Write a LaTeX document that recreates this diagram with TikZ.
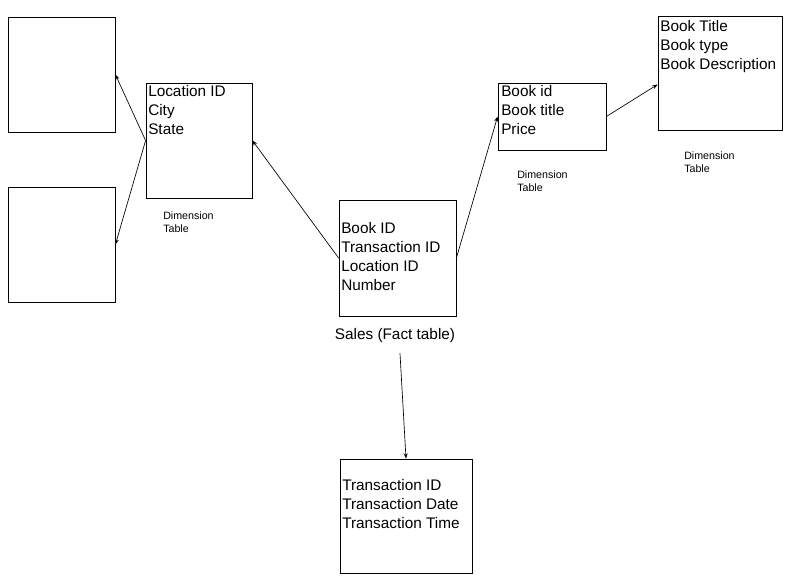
\documentclass[tikz,border=0pt]{standalone}
\usepackage{fontspec}
\setmainfont{Liberation Sans}
\usetikzlibrary{arrows.meta,calc}
\begin{document}
\begin{tikzpicture}[x=0.75pt,y=-0.75pt,
    box/.style={rectangle, draw, line width=0.6pt, inner sep=0pt},
    txt/.style={anchor=north west, align=left, inner sep=0pt, font=\fontsize{11.5}{14.2}\selectfont},
    small/.style={align=left, inner sep=0pt, font=\fontsize{8}{10}\selectfont},
    arrow/.style={-{Stealth[length=4pt,width=3pt]}, line width=0.5pt}
]
    \useasboundingbox (0,0) rectangle (800,586);
    % Boxes
    \node[box, minimum width=107*0.75pt, minimum height=115*0.75pt] (a) at (61.5,74.5) {};
    \node[box, minimum width=107*0.75pt, minimum height=115*0.75pt] (b) at (61.5,244.5) {};
    \node[box, minimum width=106*0.75pt, minimum height=115*0.75pt] (loc) at (199,140.5) {};
    \node[box, minimum width=117*0.75pt, minimum height=116*0.75pt] (fact) at (397.5,258) {};
    \node[box, minimum width=108*0.75pt, minimum height=67*0.75pt] (book) at (552,116.5) {};
    \node[box, minimum width=124*0.75pt, minimum height=114*0.75pt] (desc) at (720,73) {};
    \node[box, minimum width=132*0.75pt, minimum height=114*0.75pt] (trans) at (406,516) {};

    % Texts
    \node[txt] at (148,85) {Location ID\\City\\State};
    \node[txt] at (341,222) {Book ID\\Transaction ID\\Location ID\\Number};
    \node[txt] at (501,85) {Book id\\Book title\\Price};
    \node[txt] at (660,20) {Book Title\\Book type\\Book Description};
    \node[txt] at (342,479) {Transaction ID\\Transaction Date\\Transaction Time};
    \node[small, anchor=north west] at (163,211) {Dimension\\Table};
    \node[small, anchor=north west] at (517,170) {Dimension\\Table};
    \node[small, anchor=north west] at (684,151) {Dimension\\Table};
    \node[inner sep=0pt, font=\fontsize{11.5}{14}\selectfont] (sales) at (395,336) {Sales (Fact table)};

    % Arrows
    \draw[arrow] (loc.west) -- (a.east);
    \draw[arrow] (loc.west) -- (b.east);
    \draw[arrow] (fact.west) -- (loc.east);
    \draw[arrow] (fact.east) -- (book.west);
    \draw[arrow] (book.east) -- ($(desc.north west)!0.6!(desc.south west)$);
    \draw[arrow] ($(sales.south)+(5,10)$) -- (trans.north);
\end{tikzpicture}
\end{document}
